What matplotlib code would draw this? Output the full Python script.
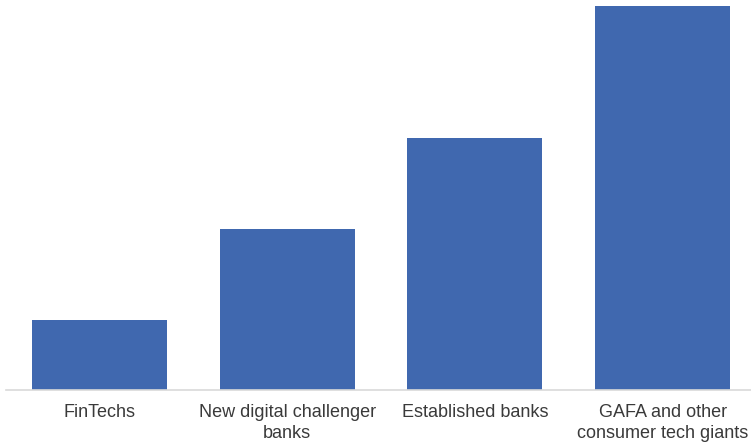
import matplotlib.pyplot as plt

categories = ['FinTechs', 'New digital challenger\nbanks', 'Established banks',
              'GAFA and other\nconsumer tech giants']
values = [18.2, 41.9, 65.6, 100.0]

plt.rcParams['font.family'] = ['Liberation Sans', 'DejaVu Sans']

fig = plt.figure(figsize=(7.51, 4.45), dpi=100)
ax = fig.add_axes([6 / 751, 55 / 445, 745 / 751, 390 / 445])

x = range(len(categories))
ax.bar(x, values, width=0.72, color='#4068AF')

ax.set_xlim(-0.498, 3.471)
ax.set_ylim(0, 101.6)
ax.set_xticks(list(x))
ax.set_xticklabels(categories, fontsize=13, color='#3A3A3A', linespacing=1.3)
ax.tick_params(axis='x', length=0, pad=10)
ax.set_yticks([])

for s in ['top', 'right', 'left']:
    ax.spines[s].set_visible(False)
ax.spines['bottom'].set_color('#D9D9D9')
ax.spines['bottom'].set_linewidth(1.2)

fig.savefig('out.png', dpi=100)
